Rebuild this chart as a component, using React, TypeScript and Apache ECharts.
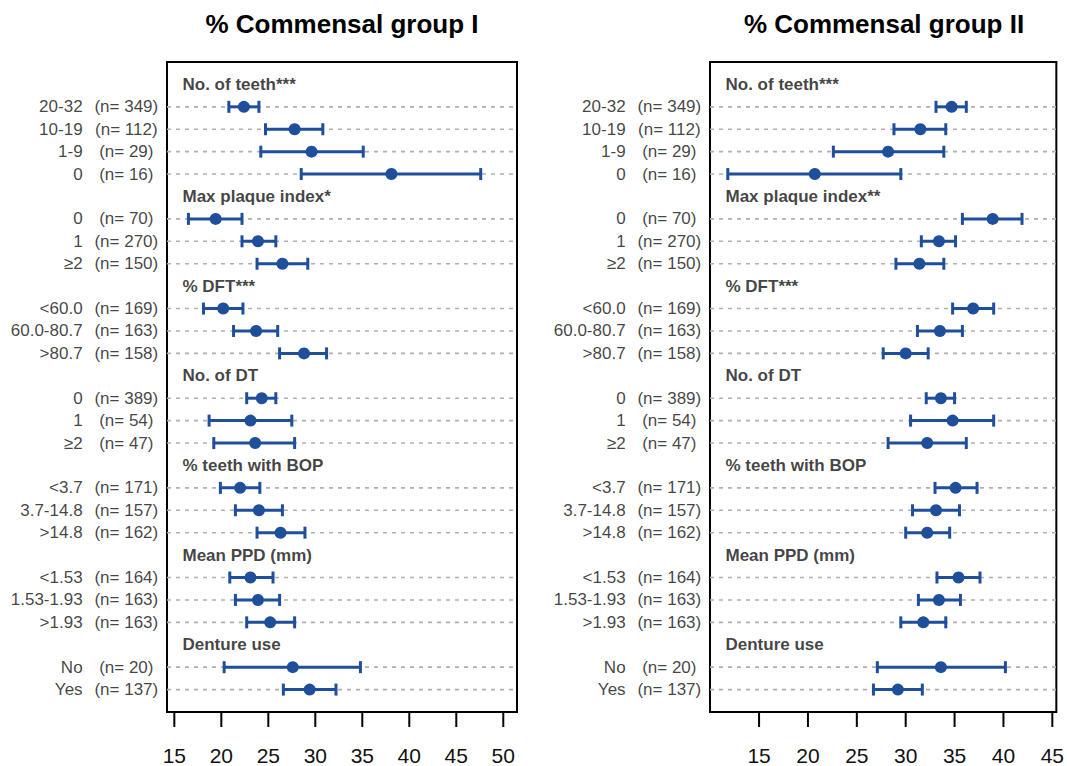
import React, { useEffect, useRef } from "react";
import * as echarts from "echarts";

const FONT = '"Liberation Sans", Arial, Helvetica, sans-serif';
const BLUE = "#1F4E9B";

// ---- Data ----
const titleI = "% Commensal group I";
const titleII = "% Commensal group II";

const groupHeadersI = [
  "No. of teeth***",
  "Max plaque index*",
  "% DFT***",
  "No. of DT",
  "% teeth with BOP",
  "Mean PPD (mm)",
  "Denture use",
];
const groupHeadersII = [
  "No. of teeth***",
  "Max plaque index**",
  "% DFT***",
  "No. of DT",
  "% teeth with BOP",
  "Mean PPD (mm)",
  "Denture use",
];
const groupSizes = [4, 3, 3, 3, 3, 3, 2];

const categories = [
  "20-32", "10-19", "1-9", "0",
  "0", "1", "≥2",
  "<60.0", "60.0-80.7", ">80.7",
  "0", "1", "≥2",
  "<3.7", "3.7-14.8", ">14.8",
  "<1.53", "1.53-1.93", ">1.93",
  "No", "Yes",
];
const sampleSizes = [
  349, 112, 29, 16,
  70, 270, 150,
  169, 163, 158,
  389, 54, 47,
  171, 157, 162,
  164, 163, 163,
  20, 137,
];

const meanI = [22.4, 27.8, 29.6, 38.1, 19.4, 23.9, 26.5, 20.2, 23.7, 28.8, 24.3, 23.1, 23.6, 22.0, 24.0, 26.3, 23.1, 23.9, 25.2, 27.6, 29.4];
const lowI = [20.8, 24.7, 24.2, 28.5, 16.5, 22.2, 23.8, 18.1, 21.3, 26.2, 22.7, 18.7, 19.2, 19.9, 21.5, 23.8, 20.9, 21.5, 22.7, 20.3, 26.6];
const highI = [24.0, 30.8, 35.1, 47.6, 22.2, 25.8, 29.2, 22.3, 26.0, 31.2, 25.8, 27.5, 27.8, 24.1, 26.5, 28.9, 25.5, 26.2, 27.8, 34.8, 32.2];

const meanII = [34.7, 31.5, 28.2, 20.7, 38.9, 33.4, 31.4, 36.9, 33.5, 30.0, 33.6, 34.8, 32.2, 35.1, 33.1, 32.2, 35.4, 33.4, 31.8, 33.6, 29.2];
const lowII = [33.1, 28.8, 22.6, 11.8, 35.8, 31.6, 29.0, 34.8, 31.2, 27.7, 32.1, 30.5, 28.2, 33.0, 30.7, 30.0, 33.2, 31.3, 29.5, 27.1, 26.7];
const highII = [36.2, 34.1, 33.9, 29.5, 41.9, 35.1, 33.9, 39.0, 35.8, 32.3, 35.0, 39.0, 36.2, 37.3, 35.5, 34.5, 37.6, 35.6, 34.1, 40.2, 31.7];

const ticksI = [15, 20, 25, 30, 35, 40, 45, 50];
const ticksII = [15, 20, 25, 30, 35, 40, 45];
const rangeI = [14.22, 51.46];
const rangeII = [9.98, 45.41];

// ---- layout of rows (header rows + item rows) ----
function buildRows() {
  const headerRows: number[] = [];
  const itemRows: number[] = [];
  let r = 1;
  groupSizes.forEach((size) => {
    headerRows.push(r);
    r += 1;
    for (let k = 0; k < size; k++) {
      itemRows.push(r);
      r += 1;
    }
  });
  return { headerRows, itemRows, total: r };
}

function panel(
  gi: number,
  headers: string[],
  mean: number[],
  low: number[],
  high: number[],
  range: number[],
  ticks: number[]
) {
  const { headerRows, itemRows, total } = buildRows();
  const lineEnds = (params: any, api: any) => {
    const a = api.coord([api.value(0), api.value(2)]);
    const b = api.coord([api.value(1), api.value(2)]);
    return [a, b];
  };
  const series: any[] = [
    {
      type: "custom",
      name: "grid" + gi,
      xAxisIndex: gi,
      yAxisIndex: gi,
      silent: true,
      z: 1,
      encode: { x: [0, 1], y: 2 },
      data: itemRows.map((r) => [range[0], range[1], r]),
      renderItem: (params: any, api: any) => {
        const [a, b] = lineEnds(params, api);
        return {
          type: "line",
          shape: { x1: a[0], y1: a[1], x2: b[0], y2: b[1] },
          style: { stroke: "#b0b0b0", lineWidth: 1.6, lineDash: [4, 5] },
        };
      },
    },
    {
      // x-axis tick marks hanging below the box
      type: "custom",
      name: "ticks" + gi,
      xAxisIndex: gi,
      yAxisIndex: gi,
      silent: true,
      clip: false,
      z: 2,
      encode: { x: 0, y: 1 },
      data: ticks.map((t) => [t, total]),
      renderItem: (params: any, api: any) => {
        const p = api.coord([api.value(0), api.value(1)]);
        return {
          type: "line",
          shape: { x1: p[0], y1: p[1] + 1, x2: p[0], y2: p[1] + 15 },
          style: { stroke: "#000", lineWidth: 2 },
        };
      },
    },
    {
      type: "custom",
      name: "ci" + gi,
      xAxisIndex: gi,
      yAxisIndex: gi,
      silent: true,
      z: 3,
      encode: { x: [0, 1], y: 2 },
      data: itemRows.map((r, i) => [low[i], high[i], r]),
      renderItem: (params: any, api: any) => {
        const [a, b] = lineEnds(params, api);
        const h = 6;
        const st = { stroke: BLUE, lineWidth: 3 };
        return {
          type: "group",
          children: [
            { type: "line", shape: { x1: a[0], y1: a[1], x2: b[0], y2: b[1] }, style: st },
            { type: "line", shape: { x1: a[0], y1: a[1] - h, x2: a[0], y2: a[1] + h }, style: st },
            { type: "line", shape: { x1: b[0], y1: b[1] - h, x2: b[0], y2: b[1] + h }, style: st },
          ],
        };
      },
    },
    {
      type: "scatter",
      name: "mean" + gi,
      xAxisIndex: gi,
      yAxisIndex: gi,
      silent: true,
      z: 4,
      symbol: "circle",
      symbolSize: 12,
      itemStyle: { color: BLUE, opacity: 1 },
      data: itemRows.map((r, i) => [mean[i], r]),
    },
  ];
  const labelSeries = (
    data: any[],
    offset: number,
    align: string,
    bold: boolean
  ) => ({
    type: "scatter",
    xAxisIndex: gi,
    yAxisIndex: gi,
    silent: true,
    z: 5,
    symbol: "circle",
    symbolSize: 1,
    itemStyle: { color: "rgba(0,0,0,0)" },
    label: {
      show: true,
      position: "inside",
      formatter: "{b}",
      offset: [offset, 0],
      align,
      verticalAlign: "middle",
      color: "#111",
      fontFamily: FONT,
      fontSize: 17,
      fontWeight: bold ? "bold" : "normal",
    },
    data,
  });
  series.push(
    labelSeries(
      itemRows.map((r, i) => ({ name: categories[i], value: [range[0], r] })),
      -84.4,
      "right",
      false
    ),
    labelSeries(
      itemRows.map((r, i) => ({ name: "(n= " + sampleSizes[i] + ")", value: [range[0], r] })),
      -40.7,
      "center",
      false
    ),
    labelSeries(
      headerRows.map((r, i) => ({ name: headers[i], value: [range[0], r] })),
      15.5,
      "left",
      true
    )
  );
  return series;
}

function xAxisFor(gi: number, range: number[], ticks: number[]) {
  return {
    gridIndex: gi,
    type: "value",
    min: range[0],
    max: range[1],
    axisLine: { show: false },
    axisTick: { show: false },
    axisLabel: {
      show: true,
      customValues: ticks,
      fontSize: 21,
      color: "#111",
      fontFamily: FONT,
      margin: 33,
    },
    splitLine: { show: false },
  };
}

function yAxisFor(gi: number) {
  const { total } = buildRows();
  return {
    gridIndex: gi,
    type: "value",
    min: 0,
    max: total,
    inverse: true,
    show: false,
    splitLine: { show: false },
  };
}

export default function App() {
  const ref = useRef<HTMLDivElement>(null);
  useEffect(() => {
    if (!ref.current) return;
    const chart = echarts.init(ref.current, undefined, { renderer: "svg" });
    const option: any = {
      animation: false,
      backgroundColor: "#fff",
      textStyle: { fontFamily: FONT },
      grid: [
        { left: 167, top: 62, width: 350, height: 650, show: true, borderColor: "#000", borderWidth: 2, backgroundColor: "transparent" },
        { left: 710, top: 62, width: 348, height: 650, show: true, borderColor: "#000", borderWidth: 2, backgroundColor: "transparent" },
      ],
      xAxis: [xAxisFor(0, rangeI, ticksI), xAxisFor(1, rangeII, ticksII)],
      yAxis: [yAxisFor(0), yAxisFor(1)],
      graphic: [
        {
          type: "text",
          x: 342,
          y: 24,
          style: { text: titleI, fontSize: 26, fontWeight: "bold", fontFamily: FONT, fill: "#000", textAlign: "center", textVerticalAlign: "middle" },
        },
        {
          type: "text",
          x: 884,
          y: 24,
          style: { text: titleII, fontSize: 26, fontWeight: "bold", fontFamily: FONT, fill: "#000", textAlign: "center", textVerticalAlign: "middle" },
        },
      ],
      series: [
        ...panel(0, groupHeadersI, meanI, lowI, highI, rangeI, ticksI),
        ...panel(1, groupHeadersII, meanII, lowII, highII, rangeII, ticksII),
      ],
    };
    chart.setOption(option);
    return () => chart.dispose();
  }, []);
  return (
    <div
      ref={ref}
      style={{ position: "fixed", left: 0, top: 0, width: 1067, height: 766, background: "#fff" }}
    />
  );
}
